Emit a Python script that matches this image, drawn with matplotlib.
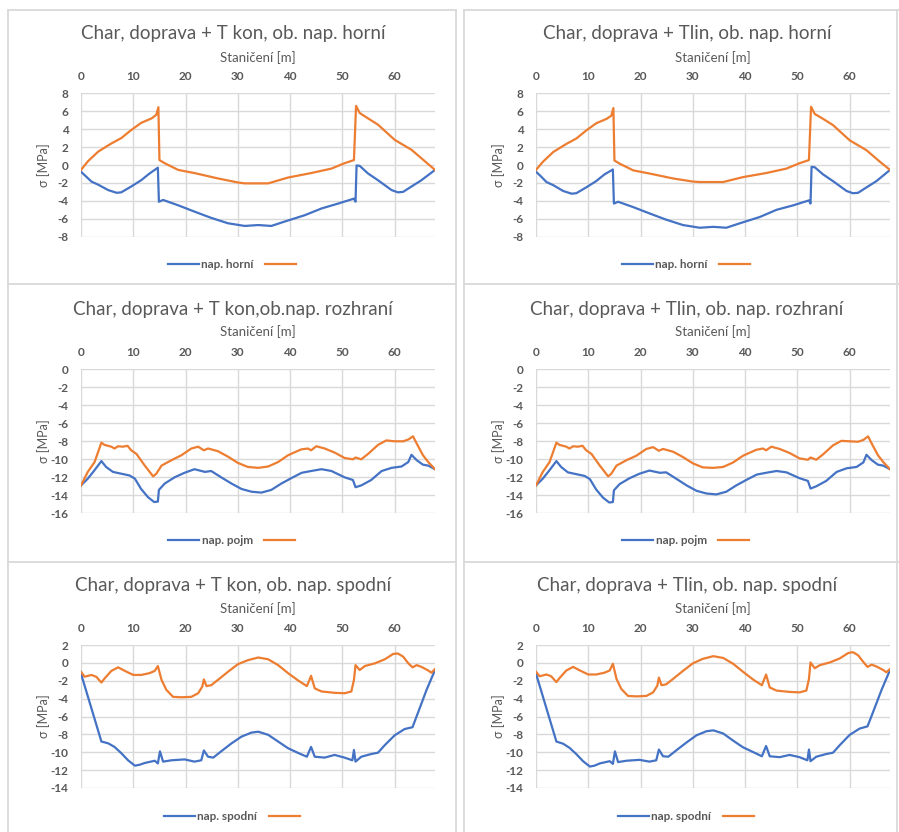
import numpy as np
import matplotlib
matplotlib.use("Agg")
import matplotlib.pyplot as plt
from matplotlib.lines import Line2D

plt.rcParams['font.family'] = ['Lato', 'DejaVu Sans']
plt.rcParams['axes.unicode_minus'] = False

# ---- data ----
titles = [["Char, doprava + T kon, ob. nap. horní", "Char, doprava + Tlin, ob. nap. horní"],
          ["Char, doprava + T kon,ob.nap. rozhraní", "Char, doprava + Tlin, ob. nap. rozhraní"],
          ["Char, doprava + T kon, ob. nap. spodní", "Char, doprava + Tlin, ob. nap. spodní"]]
legend_names = ["nap. horní", "nap. pojm", "nap. spodní"]

# horní
horni_blue_x = [0, 1, 2, 3.3, 5.2, 6.8, 7.7, 9.6, 11.5, 13.1, 14.7, 14.9, 15.7, 18.6, 21.7, 24.9, 28.1, 31.3,
                33.9, 36.4, 39, 42.8, 46, 49.2, 52.2, 52.5, 52.7, 53.3, 54.9, 56.8, 59.4, 60.6, 61.6, 63.2,
                65.1, 67.7]
horni_kon_blue = [-0.75, -1.3, -1.85, -2.2, -2.8, -3.1, -3.05, -2.4, -1.7, -0.95, -0.3, -4.1, -3.9, -4.5,
                  -5.2, -5.9, -6.5, -6.8, -6.7, -6.8, -6.3, -5.6, -4.85, -4.3, -3.75, -4.1, -0.05, -0.1,
                  -0.95, -1.7, -2.8, -3.05, -3.0, -2.4, -1.7, -0.55]
horni_lin_blue = [-0.75, -1.3, -1.9, -2.25, -2.9, -3.2, -3.15, -2.5, -1.8, -1.05, -0.5, -4.3, -4.1, -4.7,
                  -5.4, -6.1, -6.7, -7.0, -6.9, -7.0, -6.5, -5.8, -5.0, -4.5, -3.95, -4.3, -0.2, -0.25,
                  -1.05, -1.8, -2.9, -3.15, -3.1, -2.5, -1.8, -0.55]
horni_orange_x = [0, 1.3, 3.3, 5.8, 7.7, 9.6, 11.5, 13.5, 14.4, 14.8, 15.0, 16, 18.6, 21.7, 26.2, 30, 31.3,
                  35.8, 39.6, 44, 47.9, 50.4, 52.2, 52.6, 53.3, 54.9, 56.8, 60, 63.2, 65.8, 67.7]
horni_kon_orange = [-0.55, 0.4, 1.5, 2.4, 3.0, 3.9, 4.7, 5.2, 5.6, 6.45, 0.55, 0.2, -0.55, -0.9, -1.5,
                    -1.95, -2.05, -2.05, -1.4, -0.9, -0.4, 0.2, 0.55, 6.6, 5.8, 5.2, 4.5, 2.8, 1.7, 0.4,
                    -0.55]
horni_lin_orange = [-0.55, 0.35, 1.45, 2.35, 2.95, 3.85, 4.65, 5.15, 5.5, 6.35, 0.5, 0.15, -0.6, -0.95,
                    -1.5, -1.85, -1.9, -1.9, -1.35, -0.9, -0.4, 0.2, 0.55, 6.5, 5.7, 5.15, 4.45, 2.75,
                    1.65, 0.35, -0.55]

# rozhraní
roz_blue_x = [0, 1.3, 2.6, 3.9, 4.8, 6.1, 7.7, 9.3, 10.3, 11.5, 12.8, 14.0, 14.7, 14.9, 16.0, 17.9, 19.8,
              21.7, 23.7, 24.9, 26.8, 28.8, 30.7, 32.6, 34.5, 36.4, 38.3, 40.2, 42.2, 44.0, 46.0, 47.9,
              50.4, 52.0, 52.5, 53.6, 55.5, 57.5, 59.4, 61.3, 62.6, 63.2, 64.2, 65.4, 66.4, 67.7]
roz_kon_blue = [-12.9, -12.15, -11.2, -10.2, -10.85, -11.4, -11.6, -11.8, -12.15, -13.3, -14.2, -14.75,
                -14.7, -13.4, -12.7, -12.0, -11.5, -11.1, -11.4, -11.3, -12.0, -12.7, -13.3, -13.6, -13.7,
                -13.4, -12.7, -12.1, -11.5, -11.3, -11.1, -11.3, -12.0, -12.3, -13.1, -12.9, -12.3,
                -11.3, -10.95, -10.8, -10.3, -9.5, -10.1, -10.6, -10.7, -11.1]
roz_lin_blue = [-12.9, -12.15, -11.2, -10.2, -10.85, -11.45, -11.65, -11.85, -12.2, -13.35, -14.25, -14.8,
                -14.75, -13.45, -12.75, -12.1, -11.6, -11.25, -11.5, -11.45, -12.15, -12.9, -13.5, -13.8,
                -13.9, -13.6, -12.9, -12.3, -11.7, -11.5, -11.3, -11.45, -12.1, -12.4, -13.25, -13.0,
                -12.4, -11.4, -11.0, -10.85, -10.35, -9.5, -10.1, -10.6, -10.7, -11.1]
roz_orange_x = [0, 1.3, 2.6, 3.9, 4.5, 5.8, 6.4, 7.1, 8.0, 8.9, 9.6, 10.6, 12.2, 13.8, 14.4, 15.4, 17.3,
                19.2, 21.1, 22.4, 23.5, 24.3, 26.2, 28.1, 30, 31.9, 33.9, 35.8, 37.7, 39.6, 42.1, 43.4,
                44.0, 45.0, 46.6, 48.5, 50.4, 52.0, 52.5, 53.6, 54.9, 56.8, 58.4, 60, 61.6, 62.6, 63.5,
                64.2, 65.4, 66.4, 67.7]
roz_kon_orange = [-12.9, -11.4, -10.3, -8.15, -8.4, -8.6, -8.8, -8.55, -8.6, -8.5, -9.0, -9.4, -10.7,
                  -11.9, -11.6, -10.7, -10.1, -9.55, -8.8, -8.6, -9.0, -8.8, -9.1, -9.7, -10.4, -10.85,
                  -10.95, -10.8, -10.3, -9.55, -8.9, -8.8, -9.0, -8.55, -8.8, -9.25, -9.85, -10.0, -9.8,
                  -10.0, -9.4, -8.4, -7.9, -8.0, -8.0, -7.8, -7.45, -8.25, -9.55, -10.3, -11.1]
roz_lin_orange = [-12.9, -11.4, -10.3, -8.15, -8.4, -8.6, -8.8, -8.55, -8.6, -8.5, -9.0, -9.4, -10.7,
                  -11.9, -11.6, -10.7, -10.1, -9.6, -8.85, -8.65, -9.05, -8.85, -9.15, -9.75, -10.45,
                  -10.9, -10.95, -10.85, -10.35, -9.6, -8.95, -8.8, -9.0, -8.6, -8.85, -9.3, -9.9, -10.05,
                  -9.8, -10.05, -9.45, -8.45, -7.95, -8.0, -8.05, -7.85, -7.45, -8.25, -9.55, -10.3, -11.1]

# spodní
spod_blue_x = [0, 3.9, 5.2, 6.4, 7.7, 9.0, 10.3, 11.2, 12.2, 14.1, 14.7, 15.1, 15.7, 17.3, 19.8, 21.7, 23.0,
               23.5, 24.3, 25.3, 26.8, 28.8, 30.7, 32.6, 33.9, 35.8, 37.7, 39.6, 41.6, 43.2, 44.0, 44.7,
               46.6, 48.5, 50.4, 51.9, 52.2, 52.5, 53.6, 55.5, 56.8, 58.1, 60.0, 61.9, 63.4, 64.4, 66.1,
               67.7]
spod_kon_blue = [-1.2, -8.8, -9.0, -9.4, -10.1, -10.9, -11.5, -11.4, -11.2, -10.95, -11.25, -9.9, -11.05,
                 -10.9, -10.8, -11.05, -10.9, -9.8, -10.5, -10.6, -9.9, -9.0, -8.25, -7.8, -7.7, -8.05,
                 -8.8, -9.55, -10.1, -10.5, -9.4, -10.5, -10.6, -10.3, -10.6, -10.9, -9.75, -11.05, -10.5,
                 -10.2, -10.05, -9.2, -8.1, -7.4, -7.2, -5.65, -3.0, -0.8]
spod_lin_blue = [-1.2, -8.8, -9.05, -9.5, -10.2, -11.0, -11.6, -11.5, -11.25, -11.0, -11.3, -9.9, -11.1,
                 -10.95, -10.85, -11.05, -10.9, -9.7, -10.45, -10.5, -9.8, -8.9, -8.1, -7.65, -7.55, -7.9,
                 -8.7, -9.45, -10.0, -10.45, -9.3, -10.45, -10.55, -10.3, -10.55, -10.9, -9.7, -11.0,
                 -10.5, -10.2, -10.05, -9.2, -8.05, -7.35, -7.1, -5.6, -3.0, -0.8]
spod_orange_x = [0, 0.7, 2.0, 2.9, 3.9, 4.5, 5.8, 7.1, 8.4, 10.0, 11.5, 13.1, 14.1, 14.7, 15.4, 16.3, 17.6,
                 19.2, 21.1, 22.4, 23.2, 23.5, 24.0, 24.9, 26.2, 28.1, 30.0, 31.9, 33.9, 35.8, 37.7, 39.6,
                 41.6, 43.2, 44.0, 44.7, 46.0, 48.5, 50.4, 51.7, 52.2, 52.5, 53.3, 54.3, 56.2, 58.1, 59.7,
                 60.6, 61.6, 62.6, 63.4, 64.2, 65.1, 66.4, 67.0, 67.7]
spod_kon_orange = [-1.0, -1.55, -1.35, -1.55, -2.2, -1.75, -0.9, -0.5, -0.9, -1.35, -1.35, -1.15, -0.9,
                   -0.35, -1.9, -3.0, -3.8, -3.85, -3.8, -3.4, -2.65, -1.85, -2.6, -2.5, -1.9, -1.0, -0.15,
                   0.3, 0.6, 0.4, -0.25, -1.15, -2.0, -2.6, -1.45, -2.85, -3.2, -3.35, -3.4, -3.2, -1.9,
                   -0.25, -0.8, -0.35, -0.05, 0.4, 1.0, 1.05, 0.7, -0.05, -0.5, -0.25, -0.45, -0.85, -1.1,
                   -0.7]
spod_lin_orange = [-1.0, -1.5, -1.3, -1.5, -2.15, -1.7, -0.85, -0.45, -0.85, -1.3, -1.3, -1.1, -0.85,
                   -0.1, -1.8, -2.9, -3.7, -3.75, -3.7, -3.3, -2.55, -1.65, -2.5, -2.4, -1.8, -0.9, -0.05,
                   0.45, 0.75, 0.55, -0.1, -1.0, -1.9, -2.5, -1.3, -2.75, -3.1, -3.25, -3.3, -3.1, -1.8,
                   0.05, -0.6, -0.25, 0.05, 0.5, 1.1, 1.2, 0.85, 0.1, -0.45, -0.2, -0.4, -0.8, -1.05, -0.7]

rows = [
    [(horni_blue_x, horni_kon_blue, horni_orange_x, horni_kon_orange),
     (horni_blue_x, horni_lin_blue, horni_orange_x, horni_lin_orange)],
    [(roz_blue_x, roz_kon_blue, roz_orange_x, roz_kon_orange),
     (roz_blue_x, roz_lin_blue, roz_orange_x, roz_lin_orange)],
    [(spod_blue_x, spod_kon_blue, spod_orange_x, spod_kon_orange),
     (spod_blue_x, spod_lin_blue, spod_orange_x, spod_lin_orange)],
]
ylims = [(-8, 8), (-16, 0), (-14, 2)]

# ---- layout in pixels ----
W, H = 899, 832
fig = plt.figure(figsize=(W / 100, H / 100), dpi=100)
fig.patch.set_facecolor('white')

plot_rows = [(93.3, 236.7), (369.3, 513.3), (645, 788)]
plot_cols = [(81, 435), (536, 890)]
title_y = [33, 310, 585]
xlab_y = [58, 332, 609]
leg_y = [265, 541, 817]
title_cx = [233, 687]

grey = '#595959'
blue = '#4472C4'
orange = '#ED7D31'

# chart area borders
for xv in [8, 456, 464, 897]:
    fig.add_artist(Line2D([xv / W, xv / W], [0, 1 - 10 / H], color='#d9d9d9', lw=1.3))
for yv in [10, 284, 562]:
    for x0, x1 in [(8, 456), (464, 899)]:
        fig.add_artist(Line2D([x0 / W, x1 / W], [1 - yv / H, 1 - yv / H], color='#d9d9d9', lw=1.3))

for r in range(3):
    y0, y1 = plot_rows[r]
    for c in range(2):
        x0, x1 = plot_cols[c]
        ax = fig.add_axes([x0 / W, 1 - y1 / H, (x1 - x0) / W, (y1 - y0) / H])
        bx, by, ox, oy = rows[r][c]
        lb, = ax.plot(bx, by, color=blue, lw=1.6)
        lo, = ax.plot(ox, oy, color=orange, lw=1.6)
        ax.set_xlim(0, 67.7)
        ax.set_ylim(*ylims[r])
        ax.set_xticks(np.arange(0, 61, 10))
        ax.set_yticks(np.arange(ylims[r][0], ylims[r][1] + 1, 2))
        ax.xaxis.tick_top()
        ax.tick_params(length=0, labelsize=8.5, labelcolor=grey)
        ax.tick_params(axis='x', pad=8)
        ax.tick_params(axis='y', pad=9)
        for lab in ax.get_xticklabels() + ax.get_yticklabels():
            lab.set_fontweight('bold')
        ax.grid(True, color='#d9d9d9', lw=1)
        ax.set_axisbelow(True)
        for s in ax.spines.values():
            s.set_visible(False)

        fig.text(title_cx[c] / W, 1 - title_y[r] / H, titles[r][c], ha='center', va='center',
                 fontsize=13.5, color=grey)
        fig.text((x0 + x1) / 2 / W, 1 - xlab_y[r] / H, "Staničení [m]", ha='center', va='center',
                 fontsize=9.5, color=grey)
        fig.text((x0 - 37) / W, 1 - (y0 + y1) / 2 / H, "σ [MPa]", ha='center', va='center',
                 rotation=90, fontsize=9, color=grey)
        fig.legend([lb, lo], [legend_names[r], ""], loc='center',
                   bbox_to_anchor=(title_cx[c] / W, 1 - leg_y[r] / H), ncol=2, frameon=False,
                   handlelength=2.6, handletextpad=0.2, columnspacing=1.0,
                   prop={'weight': 'bold', 'size': 8.5}, labelcolor=grey)

fig.savefig("out.png", dpi=100)
